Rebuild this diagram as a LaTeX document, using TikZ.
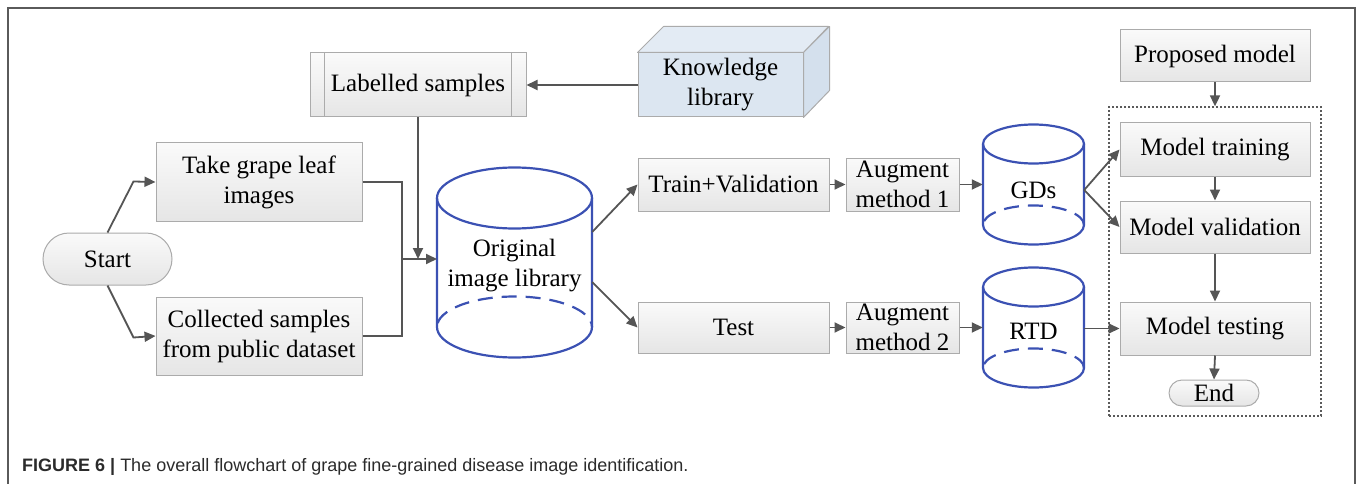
\documentclass[tikz,border=0pt]{standalone}
\usepackage{fontspec}
\setmainfont{LiberationSerif}[Extension=.ttf, UprightFont=*-Regular, BoldFont=*-Bold,
  ItalicFont=*-Italic, BoldItalicFont=*-BoldItalic]
\newfontfamily\capfont{LiberationSans}[Extension=.ttf, UprightFont=*-Regular, BoldFont=*-Bold]
\usetikzlibrary{arrows.meta,calc,shadings}

\definecolor{edgegray}{HTML}{ABABAB}
\definecolor{arrowgray}{HTML}{555555}
\definecolor{cylblue}{HTML}{3B51B3}
\definecolor{kbfront}{HTML}{DCE6F1}
\definecolor{kbtop}{HTML}{E3EBF4}
\definecolor{kbside}{HTML}{D4E0ED}
\definecolor{framegray}{HTML}{5A5A5A}
\definecolor{captext}{HTML}{2B2B2B}

\tikzset{
  box/.style={draw=edgegray, line width=1pt, top color=white!98!black,
    bottom color=white!90!black, align=center, inner xsep=2pt, inner ysep=0pt},
  pill/.style={box, rounded corners=#1},
  arr/.style={draw=arrowgray, line width=1.8pt, -{Triangle[length=11pt,width=10pt]}},
  link/.style={draw=arrowgray, line width=1.8pt},
  cyl/.style={draw=cylblue, line width=2.2pt},
  cyldash/.style={cyl, dash pattern=on 15pt off 9pt, dash phase=-4pt},
  cyltext/.style={align=center, inner sep=0pt}
}

\begin{document}
\begin{tikzpicture}[x=1pt, y=-1pt, font=\rmfamily\fontsize{25}{30}\selectfont]
\useasboundingbox (0,0) rectangle (1357,484);

% outer frame, open at the bottom
\draw[framegray, line width=1.5pt] (8,484) -- (8,8) -- (1355,8) -- (1355,484);

% ---------- input side ----------
\node[pill=26pt, minimum width=129pt, minimum height=52pt] (start) at (107.5,259) {Start};
\node[box, minimum width=206pt, minimum height=78pt] (take) at (259,182) {Take grape leaf\\images};
\node[box, minimum width=206pt, minimum height=78pt] (coll) at (259,336) {Collected samples\\from public dataset};

\node[box, minimum width=216pt, minimum height=64pt] (lab) at (418,85) {Labelled samples};
\draw[edgegray, line width=1pt] ([xshift=15pt]lab.north west) -- ([xshift=15pt]lab.south west);
\draw[edgegray, line width=1pt] ([xshift=-15pt]lab.north east) -- ([xshift=-15pt]lab.south east);

% knowledge library cuboid
\node[draw=edgegray, line width=1pt, fill=kbfront, minimum width=165pt, minimum height=64pt,
      align=center, inner sep=0pt] (know) at (720.5,85) {Knowledge\\library};
\filldraw[fill=kbtop, draw=edgegray, line width=1pt, line join=round]
  (know.north west) -- ++(26,-26) -- ++(165,0) -- (know.north east) -- cycle;
\filldraw[fill=kbside, draw=edgegray, line width=1pt, line join=round]
  (know.north east) -- ++(26,-26) -- ++(0,64) -- (know.south east) -- cycle;

% ---------- original image library cylinder ----------
\draw[cyl] (514.5,198) ellipse [x radius=77.5, y radius=30.5];
\draw[cyl, line join=round] (437,198) -- (437,327)
  arc[start angle=180, end angle=0, x radius=77.5, y radius=30.5] -- (592,198);
\draw[cyldash] (437,327) arc[start angle=180, end angle=360, x radius=77.5, y radius=30.5];
\node[cyltext, minimum width=155pt] (orig) at (514.5,266) {Original\\image library};

% ---------- split ----------
\node[box, minimum width=191pt, minimum height=53pt] (trval) at (733.5,184.5) {Train+Validation};
\node[box, minimum width=191pt, minimum height=51pt] (test) at (733.5,327.5) {Test};
\node[box, minimum width=113pt, minimum height=53pt] (aug1) at (902.5,184.5) {Augment\\method 1};
\node[box, minimum width=113pt, minimum height=51pt] (aug2) at (902.5,327.5) {Augment\\method 2};

% GDs cylinder
\draw[cyl] (1033.5,144) ellipse [x radius=50.5, y radius=19.5];
\draw[cyl, line join=round] (983,144) -- (983,225)
  arc[start angle=180, end angle=0, x radius=50.5, y radius=19.5] -- (1084,144);
\draw[cyldash] (983,225) arc[start angle=180, end angle=360, x radius=50.5, y radius=19.5];
\node[cyltext, minimum width=101pt] (gds) at (1033.5,190) {GDs};

% RTD cylinder
\draw[cyl] (1033.5,287) ellipse [x radius=50.5, y radius=19.5];
\draw[cyl, line join=round] (983,287) -- (983,368)
  arc[start angle=180, end angle=0, x radius=50.5, y radius=19.5] -- (1084,287);
\draw[cyldash] (983,368) arc[start angle=180, end angle=360, x radius=50.5, y radius=19.5];
\node[cyltext, minimum width=101pt] (rtd) at (1033.5,331) {RTD};

% ---------- model block ----------
\node[box, minimum width=190pt, minimum height=52pt] (prop) at (1215,56) {Proposed model};
\node[draw=framegray, line width=1.3pt, dash pattern=on 2pt off 2pt,
      minimum width=212pt, minimum height=309pt] (frame) at (1215,261.5) {};
\node[box, minimum width=190pt, minimum height=53pt] (mtrain) at (1215,149.5) {Model training};
\node[box, minimum width=190pt, minimum height=52pt] (mval) at (1215,227) {Model validation};
\node[box, minimum width=190pt, minimum height=53pt] (mtest) at (1215,328.5) {Model testing};
\node[pill=13pt, minimum width=90pt, minimum height=26pt] (endn) at (1214,393) {End};

% ---------- connectors ----------
\coordinate (merge) at (402,259);
\draw[arr] (start.north) -- ++(26,-51) -- (take.west);
\draw[arr] (start.south) -- ++(26,52) -- (coll.west);
\draw[link] (take.east) -| (merge);
\draw[link] (coll.east) -| (merge);
\draw[arr] (merge) -- (merge -| 437,0);
\draw[arr] (lab.south) -- (lab.south |- merge);
\draw[arr] (know.west) -- (lab.east);

\draw[arr] ([yshift=34pt]orig.east) -- (trval.west);
\draw[arr] ([yshift=-16pt]orig.east) -- (test.west);
\draw[arr] (trval.east) -- (aug1.west);
\draw[arr] (test.east) -- (aug2.west);
\draw[arr] (aug1.east) -- (aug1.east -| gds.west);
\draw[arr] (aug2.east) -- (aug2.east -| rtd.west);

\draw[arr] (gds.east) -- (mtrain.west);
\draw[arr] (gds.east) -- (mval.west);
\draw[arr] (rtd.east |- mtest) -- (mtest.west);

\draw[arr] (prop.south) -- (frame.north);
\draw[arr] (mtrain.south) -- (mval.north);
\draw[arr] (mval.south) -- (mtest.north);
\draw[arr] (mtest.south) -- (endn.north);

% caption
\node[anchor=base west, inner sep=0pt, text=captext,
      font=\capfont\fontsize{18}{22}\selectfont] (cap) at (22,471)
  {\textbf{FIGURE 6 |} The overall flowchart of grape fine-grained disease image identification.};
\end{tikzpicture}
\end{document}
